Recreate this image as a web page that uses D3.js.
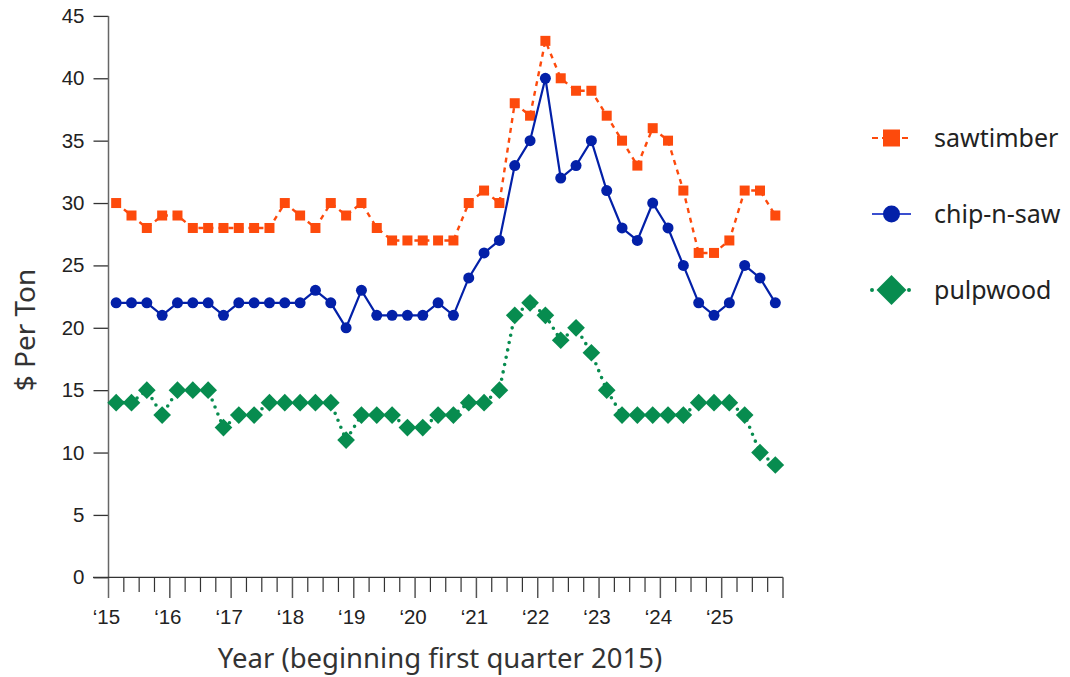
<!doctype html>
<html lang="en">
<head>
  <meta charset="utf-8">
  <title>Stumpage prices</title>
  <script src="https://cdnjs.cloudflare.com/ajax/libs/d3/7.8.5/d3.min.js"></script>
  <style>
    body { margin: 0; background: #fff; }
    text { fill: #222; }
  </style>
</head>
<body>
<script>
  // quarterly prices, 2015 Q1 .. 2025 Q4
  const sawtimber = [30,29,28,29,29,28,28,28,28,28,28,30,29,28,30,29,30,28,27,27,27,27,27,30,31,30,38,37,43,40,39,39,37,35,33,36,35,31,26,26,27,31,31,29]
  const chipNSaw  = [22,22,22,21,22,22,22,21,22,22,22,22,22,23,22,20,23,21,21,21,21,22,21,24,26,27,33,35,40,32,33,35,31,28,27,30,28,25,22,21,22,25,24,22]
  const pulpwood  = [14,14,15,13,15,15,15,12,13,13,14,14,14,14,14,11,13,13,13,12,12,13,13,14,14,15,21,22,21,19,20,18,15,13,13,13,13,13,14,14,14,13,10,9]

  const yearLabels = ["\u201815","\u201816","\u201817","\u201818","\u201819","\u201820","\u201821","\u201822","\u201823","\u201824","\u201825"]
  const yTicks = [0,5,10,15,20,25,30,35,40,45]
  const seriesNames = ["sawtimber", "chip-n-saw", "pulpwood"]

  const W = 1070, H = 677
  const nQ = sawtimber.length

  const svg = d3.select("body").append("svg")
    .attr("width", W).attr("height", H)

  const x = d3.scaleLinear().domain([0, nQ]).range([108.5, 783])
  const y = d3.scaleLinear().domain([0, 45]).range([577.3, 15.9])

  const series = [
    { name: seriesNames[0], values: sawtimber, color: "#fd4a0c", dash: "5,5", width: 2.4, cap: "butt", shape: "square", legendStroke: "#fd4a0c" },
    { name: seriesNames[1], values: chipNSaw,  color: "#0320a8", dash: null,  width: 2.2, cap: "butt", shape: "circle", legendStroke: "#3a4fcf" },
    { name: seriesNames[2], values: pulpwood,  color: "#078c4f", dash: "0,7.5", width: 3.6, cap: "round", shape: "diamond", legendStroke: "#078c4f" }
  ]

  function marker(sel, shape, s, color) {
    if (shape === "square") {
      sel.append("rect").attr("x", -s/2).attr("y", -s/2).attr("width", s).attr("height", s).attr("fill", color)
    } else if (shape === "circle") {
      sel.append("circle").attr("r", s/2).attr("fill", color)
    } else {
      const h = s * 0.68
      sel.append("path").attr("d", `M0,${-h}L${h},0L0,${h}L${-h},0Z`).attr("fill", color)
    }
  }

  // y axis
  const yAxis = svg.append("g").attr("transform", "translate(108.5,0)")
    .call(d3.axisLeft(y).tickValues(yTicks).tickSize(15).tickSizeOuter(0).tickPadding(9))
  yAxis.select(".domain").remove()
  yAxis.selectAll(".tick line").attr("stroke", "#333").attr("stroke-width", 1.3)
  yAxis.selectAll(".tick text").attr("font-family", "Liberation Sans, Arial, sans-serif").attr("font-size", 20.5).attr("fill", "#222")
  svg.append("line").attr("x1", 108.5).attr("x2", 108.5).attr("y1", y(45)).attr("y2", 598)
    .attr("stroke", "#666").attr("stroke-width", 1.5)

  // x axis
  svg.append("line").attr("x1", 93).attr("x2", x(nQ)).attr("y1", 577.3).attr("y2", 577.3)
    .attr("stroke", "#333").attr("stroke-width", 1.3)
  const qTicks = d3.range(1, nQ + 1)
  svg.append("g").selectAll("line").data(qTicks).join("line")
    .attr("x1", d => x(d)).attr("x2", d => x(d))
    .attr("y1", 577.3).attr("y2", d => d % 4 === 0 ? 598 : 592)
    .attr("stroke", d => d % 4 === 0 ? "#555" : "#333").attr("stroke-width", d => d % 4 === 0 ? 1.5 : 1.2)
  svg.append("g").selectAll("text").data(yearLabels).join("text")
    .attr("x", (d, i) => x(i * 4) - 2).attr("y", 624)
    .attr("text-anchor", "middle")
    .attr("font-family", "Liberation Sans, Arial, sans-serif").attr("font-size", 20.5)
    .text(d => d)

  // axis titles
  svg.append("text").attr("x", 440).attr("y", 668).attr("text-anchor", "middle")
    .attr("font-family", "Noto Sans, sans-serif").attr("font-size", 27.5).style("fill", "#333")
    .text("Year (beginning first quarter 2015)")
  svg.append("text").attr("transform", "translate(35,330) rotate(-90)").attr("text-anchor", "middle")
    .attr("font-family", "Noto Sans, sans-serif").attr("font-size", 28).style("fill", "#333")
    .text("$ Per Ton")

  // lines and markers
  const line = d3.line().x((d, i) => x(i + 0.5)).y(d => y(d))
  series.forEach(s => {
    svg.append("path").datum(s.values).attr("d", line)
      .attr("fill", "none").attr("stroke", s.color).attr("stroke-width", s.width)
      .attr("stroke-dasharray", s.dash).attr("stroke-linecap", s.cap)
    svg.append("g").selectAll("g").data(s.values).join("g")
      .attr("transform", (d, i) => `translate(${x(i + 0.5)},${y(d)})`)
      .each(function() { marker(d3.select(this), s.shape, s.shape === "diamond" ? 13 : (s.shape === "circle" ? 11 : 10), s.color) })
  })

  // legend
  const legend = svg.append("g").attr("transform", "translate(872,138)")
  series.forEach((s, i) => {
    const g = legend.append("g").attr("transform", `translate(0,${i * 76})`)
    g.append("line").attr("x1", 0).attr("x2", 39).attr("y1", 0).attr("y2", 0)
      .attr("stroke", s.legendStroke).attr("stroke-width", s.shape === "diamond" ? 4 : 2)
      .attr("stroke-dasharray", s.shape === "square" ? "6,4" : (s.shape === "diamond" ? "0,37" : null))
      .attr("stroke-linecap", s.cap)
    const m = g.append("g").attr("transform", "translate(19.5,0)")
    marker(m, s.shape, s.shape === "diamond" ? 22 : 17, s.color)
    g.append("text").attr("x", 62).attr("y", 9)
      .attr("font-family", "Noto Sans, sans-serif").attr("font-size", 25).style("fill", "#222")
      .text(s.name)
  })
</script>
</body>
</html>
